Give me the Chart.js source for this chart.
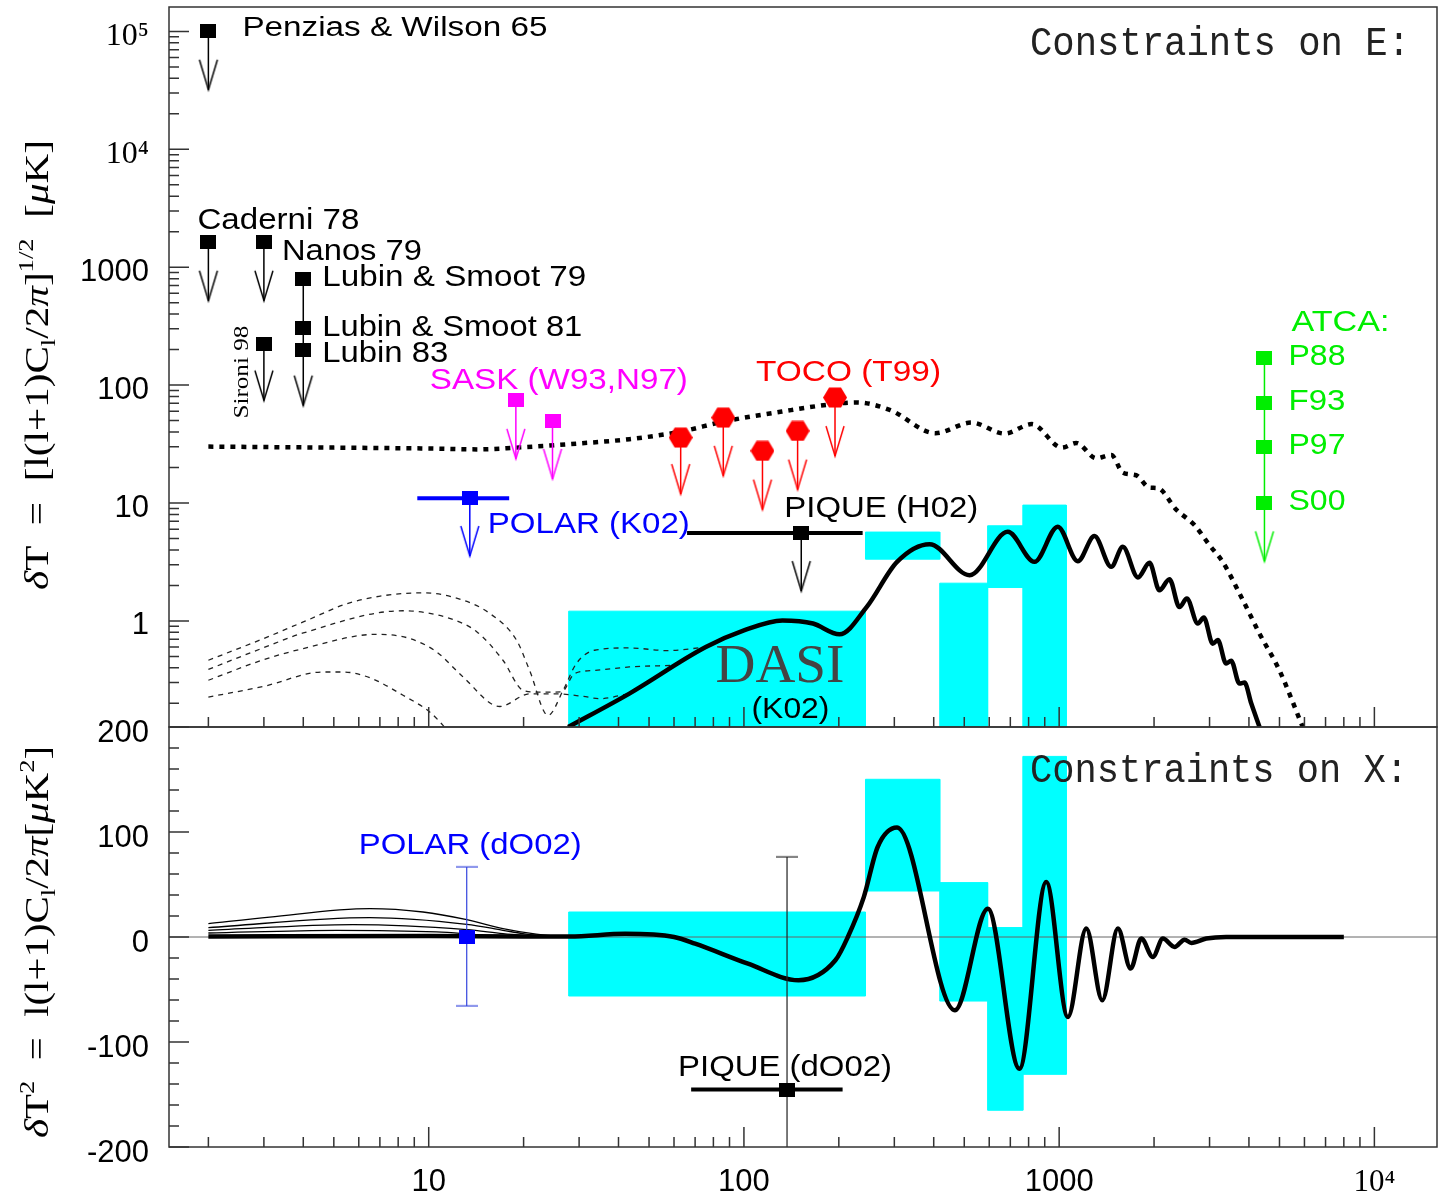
<!DOCTYPE html>
<html lang="en">
<head>
<meta charset="UTF-8">
<title>Constraints on E and X</title>
<script src="https://cdn.jsdelivr.net/npm/chart.js"></script>
<style>
  body { margin: 0; background: #fff; }
  #wrap { position: relative; width: 1441px; height: 1198px; overflow: hidden; background: #fff; }
  canvas { position: absolute; left: 0; }
  #topChart { top: 0; }
  #botChart { top: 700px; }
</style>
</head>
<body>
<div id="wrap">
  <canvas id="topChart" width="1441" height="740"></canvas>
  <canvas id="botChart" width="1441" height="498"></canvas>
</div>
<script>
// ---------- axes ----------
const lMin = 1.5, lMax = 15800;          // multipole l
const eMin = 0.126, eMax = 161000;       // top panel, dT in uK
const xMin = -200, xMax = 200;           // bottom panel, dT^2 in uK^2
const lTicks = [10, 100, 1000, 10000];
const lTickLabels = ['10', '100', '1000', '10⁴'];
const eTicks = [1, 10, 100, 1000, 10000, 100000];
const eTickLabels = ['1', '10', '100', '1000', '10⁴', '10⁵'];
const xTicks = [-200, -100, 0, 100, 200];
const xTickLabels = ['-200', '-100', '0', '100', '200'];

// ---------- E upper limits: [l, value, arrow tip] ----------
const penzias = [2, 100000, 32000];
const caderni = [2, 1620, 520];
const nanos = [3, 1620, 520];
const sironi = [3, 225, 74];
const lubinL = 4;
const lubinVals = [800, 308, 200];       // Lubin & Smoot 79, 81, Lubin 83
const lubinTip = 67;
const saskL = [18.9, 24.7];
const saskV = [75, 50];
const saskTip = [23.7, 16];
const tocoL = [63, 86, 114.5, 148, 194.5];
const tocoV = [35.9, 53, 27.7, 40.9, 78.5];
const tocoTip = [11.9, 17, 8.8, 13, 25];
const polarEL = [9.2, 13.5, 18];         // low, centre, high
const polarEV = 11;
const polarETip = 3.55;
const piqueEL = [66, 152, 238];
const piqueEV = 5.56;
const piqueETip = 1.79;
const atcaL = 4480;
const atcaV = [171, 70.8, 29.9, 10];     // P88, F93, P97, S00
const atcaTip = 3.2;

// ---------- DASI bands ----------
const dasiLo = [27.8, 243, 418, 593, 767];
const dasiHi = [243, 418, 593, 767, 1053];
const dasiETop = [1.21, 5.67, 2.09, 6.41, 9.6];
const dasiEBot = [0.05, 3.34, 0.05, 1.92, 0.05];   // 0.05 = open below the axis
const dasiXTop = [23.8, 150.2, 51.8, 9, 172];
const dasiXBot = [-56.2, 43.8, -61, -165, -130.8];

// ---------- model curves, top panel ----------
const totalE = [[2, 30.1], [5, 29.5], [10, 29], [14.5, 28.5], [19, 29.5], [30, 32], [43.3, 34.8], [63, 40.3],
  [86, 49], [132, 59.7], [195, 69.4], [228, 71.3], [290, 61.7], [405, 39.1], [527, 48.1], [671, 38.8],
  [819, 46.7], [1020, 29.5], [1133, 32.3], [1311, 24], [1463, 25.6], [1592, 18.1], [1755, 17.2],
  [1935, 13.5], [2053, 13.4], [2352, 8.8], [2687, 6.5], [2997, 4.4], [3302, 3.17], [3826, 1.5],
  [4322, 0.78], [5000, 0.38], [5925, 0.126]];
const modelE = [[27.7, 0.126], [43.3, 0.242], [75.7, 0.6], [100, 0.83], [132.5, 1.01], [165.6, 0.95],
  [201, 0.77], [245, 1.31], [306, 3.17], [388, 4.48], [520, 2.44], [687, 5.7], [835, 3.17], [990, 6.29],
  [1146, 3.21], [1294, 5.24], [1463, 2.88], [1592, 4.25], [1778, 2.34], [1935, 3.11], [2080, 1.82],
  [2238, 2.26], [2408, 1.31], [2541, 1.55], [2754, 0.95], [2877, 1.07], [3071, 0.64], [3186, 0.69],
  [3386, 0.435], [3512, 0.46], [3733, 0.294], [3872, 0.3], [4067, 0.2], [4322, 0.126]];
const reionE1 = [[2, 0.464], [3, 0.71], [4, 0.98], [5.75, 1.45], [9.59, 1.73], [12.85, 1.5], [15.6, 1.16],
  [19, 0.686], [20.9, 0.38], [23.9, 0.158], [26.7, 0.258], [29.4, 0.435], [33.6, 0.564], [43.3, 0.59],
  [57.3, 0.56], [75.7, 0.6]];
const reionE2 = [[2, 0.388], [3, 0.594], [4, 0.79], [8.29, 1.22], [11.65, 1.05], [14.2, 0.81], [17.2, 0.464],
  [19.9, 0.258], [21.95, 0.249], [26.4, 0.25], [29, 0.357], [33.6, 0.38], [43.3, 0.407], [60, 0.42]];
const reionE3 = [[2, 0.314], [3, 0.47], [4, 0.583], [6.83, 0.77], [8.7, 0.71], [10.6, 0.545], [12.85, 0.335],
  [16.8, 0.188], [20.9, 0.241], [25.4, 0.241], [30.9, 0.229], [34.9, 0.219], [43.3, 0.242]];
const reionE4 = [[2, 0.226], [3, 0.279], [4.62, 0.369], [5.35, 0.369], [6.5, 0.33], [8.29, 0.234],
  [10.07, 0.169], [11.1, 0.13], [12, 0.1]];

// ---------- model curves, bottom panel ----------
const modelX = [[2, 0.5], [10, 1], [20, 0.5], [28, 0.5], [42, 3], [60, 0], [70, -6.3], [103, -25.4],
  [149, -41.2], [195, -22.2], [213.6, 0], [240, 38], [265.6, 85.7], [306, 104.2], [467, -69.8], [594, 27],
  [748, -125.4], [910, 52.4], [1066, -76.2], [1219, 8], [1370, -60.3], [1536, 8], [1686, -30.1],
  [1822, -1.5], [1983, -19], [2133, -1.5], [2324, -9.5], [2500, -2.5], [2626, -5.7], [2930, -1.5],
  [3386, 0], [8000, 0]];
const reionX1 = [[2, 12.7], [3.13, 19], [6.5, 27], [9.59, 23.8], [13.2, 16.5], [17.2, 8], [21.4, 3.2], [26, 0.5]];
const reionX2 = [[2, 9], [6.5, 18.5], [13.2, 12.1], [17.2, 6.4], [19.9, 3.2], [24, 0.5]];
const reionX3 = [[2, 6.4], [5.75, 11.8], [13.2, 7], [17.2, 3.2], [22, 0.5]];
const reionX4 = [[2, 3.8], [5.1, 6.4], [10.6, 4.8], [15.2, 1.6], [20, 0.5]];

// ---------- X data points ----------
const polarXL = 13.2;
const polarXV = 0;
const polarXErr = [66.7, -65.7];
const piqueXL = [68, 137, 205.6];
const piqueXV = -145.3;
const piqueXErr = [76.2, -250];

// ---------- styles ----------
const SANS = '"Liberation Sans", Arial, sans-serif';
const SERIF = '"Liberation Serif", "Times New Roman", serif';
const MONO = '"Liberation Mono", "Courier New", monospace';
const green = '#00EE00', magenta = '#FF00FF', red = '#FF0000', blue = '#0000FF', cyan = '#00FFFF';

// keep point sizes from padding the chart area
Chart.defaults.elements.point.hoverRadius = 0;
Chart.defaults.elements.point.borderWidth = 0;

function mkCanvas(w, h, draw) {
  const c = document.createElement('canvas');
  c.width = w; c.height = h;
  draw(c.getContext('2d'), w, h);
  return c;
}
const arrowImg = color => mkCanvas(22, 66, g => {
  g.strokeStyle = color; g.lineWidth = 1.5;
  g.beginPath(); g.moveTo(2, 3); g.lineTo(11, 33); g.lineTo(20, 3); g.stroke();
});
const capImg = color => mkCanvas(22, 3, g => {
  g.strokeStyle = color; g.lineWidth = 1.2;
  g.beginPath(); g.moveTo(0, 1.5); g.lineTo(22, 1.5); g.stroke();
});
const squareImg = color => mkCanvas(16, 14, (g, w, h) => { g.fillStyle = color; g.fillRect(0, 0, w, h); });
const hexImg = color => mkCanvas(24, 21, g => {
  g.fillStyle = color; g.beginPath();
  g.moveTo(0, 10.5); g.lineTo(6, 0.5); g.lineTo(18, 0.5); g.lineTo(24, 10.5); g.lineTo(18, 20.5); g.lineTo(6, 20.5);
  g.closePath(); g.fill();
});

const pts = arr => arr.map(p => ({ x: p[0], y: p[1] }));

function curve(arr, opts) {
  return Object.assign({ data: pts(arr), borderColor: '#000', pointRadius: 0, fill: false,
    cubicInterpolationMode: 'monotone' }, opts);
}
function band(lo, hi, top, bot) {
  return { data: pts([[lo, bot], [lo, top], [hi, top], [hi, bot], [lo, bot]]), fill: 'shape',
    backgroundColor: cyan, borderColor: cyan, borderWidth: 1, pointRadius: 0, tension: 0, order: 10 };
}
function hbar(lo, hi, v, color) {
  return { data: pts([[lo, v], [hi, v]]), borderColor: color, borderWidth: 4, pointRadius: 0, order: 4 };
}
function limit(l, vals, tip, color, marker) {
  const d = vals.map(v => ({ x: l, y: v }));
  d.push({ x: l, y: tip });
  const arrow = arrowImg(color);
  return { data: d, borderColor: color, borderWidth: 1.5, pointRadius: 1, order: 3,
    pointStyle: d.map((p, i) => i < vals.length ? marker : arrow) };
}

function logMarks(min, max) {
  const marks = [];
  for (let e = Math.floor(Math.log10(min)); e <= Math.ceil(Math.log10(max)); e++) {
    for (let k = 1; k <= 9; k++) {
      const v = k * Math.pow(10, e);
      if (v >= min && v <= max) marks.push({ v: v, len: k === 1 ? 20 : 10 });
    }
  }
  return marks;
}
const lMarks = logMarks(lMin, lMax);
const eMarks = logMarks(eMin, eMax);
const xMarks = [];
for (let v = xMin; v <= xMax; v += 20) xMarks.push({ v: v, len: v % 100 === 0 ? 20 : 10 });

// text helpers
function txt(ctx, s, x, y, font, color, width) {
  ctx.save();
  ctx.font = font; ctx.fillStyle = color; ctx.textBaseline = 'alphabetic'; ctx.textAlign = 'left';
  const k = width ? width / ctx.measureText(s).width : 1;
  ctx.translate(x, y); ctx.scale(k, 1); ctx.fillText(s, 0, 0);
  ctx.restore();
}
function vtxt(ctx, runs, x, y, len, centred) {
  let total = 0;
  runs.forEach(r => { ctx.font = r.f; r.w = ctx.measureText(r.t).width; total += r.w; });
  const k = len / total;
  ctx.save();
  ctx.translate(x, y); ctx.rotate(-Math.PI / 2); ctx.scale(k, 1);
  ctx.fillStyle = '#000'; ctx.textBaseline = 'alphabetic'; ctx.textAlign = 'left';
  let cx = centred ? -total / 2 : 0;
  runs.forEach(r => { ctx.font = r.f; ctx.fillText(r.t, cx, r.dy || 0); cx += r.w; });
  ctx.restore();
}
const sans = n => n + 'px ' + SANS;
const big = '34px ' + SERIF, bigI = 'italic 34px ' + SERIF, small = '22px ' + SERIF;

function framePlugin(yMarks, extra) {
  return {
    id: 'frame',
    afterDraw(chart) {
      const ctx = chart.ctx, a = chart.chartArea, sx = chart.scales.x, sy = chart.scales.y;
      ctx.save();
      ctx.strokeStyle = '#333'; ctx.lineWidth = 1.5;
      ctx.strokeRect(a.left, a.top, a.right - a.left, a.bottom - a.top);
      ctx.beginPath();
      lMarks.forEach(m => { const px = sx.getPixelForValue(m.v); ctx.moveTo(px, a.bottom); ctx.lineTo(px, a.bottom - m.len); });
      yMarks.forEach(m => { const py = sy.getPixelForValue(m.v); ctx.moveTo(a.left, py); ctx.lineTo(a.left + m.len, py); });
      ctx.stroke();
      ctx.restore();
      extra(ctx, chart);
    }
  };
}

function yAxis(type, min, max, vals, labels, fontFn, offset) {
  return {
    type: type, min: min, max: max,
    afterBuildTicks: s => { s.ticks = vals.map(v => ({ value: v })); },
    afterFit: s => { s.width = 169; s.paddingTop = 0; s.paddingBottom = 0; },
    ticks: { callback: (v, i) => labels[i], font: fontFn, color: '#000', padding: 20, labelOffset: offset, autoSkip: false },
    grid: { display: false, drawTicks: false },
    border: { display: false }
  };
}

// ================= top panel: constraints on E =================
const blackSq = squareImg('#000');
const topSets = [];
dasiLo.forEach((lo, i) => topSets.push(band(lo, dasiHi[i], dasiETop[i], dasiEBot[i])));
[reionE1, reionE2, reionE3, reionE4].forEach(c =>
  topSets.push(curve(c, { borderColor: '#222', borderWidth: 1.3, borderDash: [5, 5], order: 8 })));
topSets.push(curve(totalE, { borderWidth: 4.5, borderDash: [5, 6], order: 7 }));
topSets.push(curve(modelE, { borderWidth: 4.5, order: 6 }));
topSets.push(hbar(polarEL[0], polarEL[2], polarEV, blue));
topSets.push(hbar(piqueEL[0], piqueEL[2], piqueEV, '#000'));
topSets.push(limit(penzias[0], [penzias[1]], penzias[2], '#000', blackSq));
topSets.push(limit(caderni[0], [caderni[1]], caderni[2], '#000', blackSq));
topSets.push(limit(nanos[0], [nanos[1]], nanos[2], '#000', blackSq));
topSets.push(limit(sironi[0], [sironi[1]], sironi[2], '#000', blackSq));
topSets.push(limit(lubinL, lubinVals, lubinTip, '#000', blackSq));
saskL.forEach((l, i) => topSets.push(limit(l, [saskV[i]], saskTip[i], magenta, squareImg(magenta))));
tocoL.forEach((l, i) => topSets.push(limit(l, [tocoV[i]], tocoTip[i], red, hexImg(red))));
topSets.push(limit(polarEL[1], [polarEV], polarETip, blue, squareImg(blue)));
topSets.push(limit(piqueEL[1], [piqueEV], piqueETip, '#000', blackSq));
topSets.push(limit(atcaL, atcaV, atcaTip, green, squareImg(green)));

function drawTopText(ctx, chart) {
  const a = chart.chartArea;
  const P = (l, v) => [chart.scales.x.getPixelForValue(l), chart.scales.y.getPixelForValue(v)];
  const put = (s, p, dx, dy, w, size, color) => txt(ctx, s, p[0] + dx, p[1] + dy, sans(size), color, w);
  put('Penzias & Wilson 65', P(penzias[0], penzias[1]), 34, 5, 305, 27, '#000');
  put('Caderni 78', P(caderni[0], caderni[1]), -11, -13, 162, 30, '#000');
  put('Nanos 79', P(nanos[0], nanos[1]), 18, 18, 140, 29, '#000');
  put('Lubin & Smoot 79', P(lubinL, lubinVals[0]), 19, 7, 264, 29, '#000');
  put('Lubin & Smoot 81', P(lubinL, lubinVals[1]), 19, 8, 260, 29, '#000');
  put('Lubin 83', P(lubinL, lubinVals[2]), 19, 12.7, 126, 29, '#000');
  put('SASK (W93,N97)', P(saskL[0], saskV[0]), -86, -11, 258, 29, magenta);
  put('TOCO (T99)', P(tocoL[4], tocoV[4]), -79, -17, 185, 29, red);
  put('POLAR (K02)', P(polarEL[1], polarEV), 18, 35, 202, 29, blue);
  put('PIQUE (H02)', P(piqueEL[1], piqueEV), -17, -16, 194, 29, '#000');
  put('ATCA:', P(atcaL, atcaV[0]), 27, -27, 98, 29, green);
  ['P88', 'F93', 'P97', 'S00'].forEach((s, i) => put(s, P(atcaL, atcaV[i]), 24, 7, 57, 29, green));
  const d = P(dasiHi[0], dasiETop[0]);
  txt(ctx, 'DASI', d[0] - 150, d[1] + 71, '55px ' + SERIF, '#444', 129);
  put('(K02)', d, -114, 107, 78, 29, '#000');
  txt(ctx, 'Constraints on E:', a.right - 407, a.top + 48, '41px ' + MONO, '#222', 380);
  const s = P(sironi[0], sironi[1]);
  vtxt(ctx, [{ t: 'Sironi 98', f: '20px ' + SERIF }], s[0] - 16, s[1] + 75, 93, false);
  vtxt(ctx, [
    { t: 'δ', f: bigI }, { t: 'T  =  [l(l+1)C', f: big }, { t: 'l', f: small, dy: 7 },
    { t: '/2', f: big }, { t: 'π', f: bigI }, { t: ']', f: big }, { t: '1/2', f: small, dy: -15 },
    { t: '  [', f: big }, { t: 'μ', f: bigI }, { t: 'K]', f: big }
  ], 48, 365, 450, true);
}

new Chart(document.getElementById('topChart'), {
  type: 'line',
  data: { datasets: topSets },
  options: {
    responsive: false, animation: false, devicePixelRatio: 1,
    layout: { padding: { left: 0, right: 4, top: 7, bottom: 13 } },
    plugins: { legend: { display: false }, tooltip: { enabled: false } },
    scales: {
      x: { type: 'logarithmic', min: lMin, max: lMax, display: false },
      y: yAxis('logarithmic', eMin, eMax, eTicks, eTickLabels,
        c => (c.tick && c.tick.value >= 10000) ? { family: SERIF, size: 32 } : { family: SANS, size: 31 }, 5)
    }
  },
  plugins: [framePlugin(eMarks, drawTopText)]
});

// ================= bottom panel: constraints on X =================
const botSets = [];
dasiLo.forEach((lo, i) => botSets.push(band(lo, dasiHi[i], dasiXTop[i], dasiXBot[i])));
botSets.push({ data: pts([[lMin, 0], [lMax, 0]]), borderColor: '#666', borderWidth: 1, pointRadius: 0, order: 9 });
[reionX1, reionX2, reionX3, reionX4].forEach(c =>
  botSets.push(curve(c, { borderWidth: 1.3, order: 8 })));
botSets.push(curve(modelX, { borderWidth: 4.5, order: 6 }));
botSets.push({ data: pts([[polarXL, polarXErr[0]], [polarXL, polarXErr[1]]]), borderColor: '#3344DD', borderWidth: 1.2,
  pointStyle: capImg('#3344DD'), pointRadius: 1, order: 4 });
botSets.push({ data: pts([[polarXL, polarXV]]), pointStyle: squareImg(blue), pointRadius: 1, order: 2 });
botSets.push(hbar(piqueXL[0], piqueXL[2], piqueXV, '#000'));
botSets.push({ data: pts([[piqueXL[1], piqueXErr[0]], [piqueXL[1], piqueXErr[1]]]), borderColor: '#222', borderWidth: 1.2,
  pointStyle: capImg('#222'), pointRadius: [1, 0], order: 4 });
botSets.push({ data: pts([[piqueXL[1], piqueXV]]), pointStyle: blackSq, pointRadius: 1, order: 2 });

function drawBotText(ctx, chart) {
  const a = chart.chartArea;
  const P = (l, v) => [chart.scales.x.getPixelForValue(l), chart.scales.y.getPixelForValue(v)];
  const put = (s, p, dx, dy, w, size, color) => txt(ctx, s, p[0] + dx, p[1] + dy, sans(size), color, w);
  put('POLAR (dO02)', P(polarXL, polarXV), -108, -83, 223, 29, blue);
  put('PIQUE (dO02)', P(piqueXL[1], piqueXV), -109, -14, 214, 29, '#000');
  txt(ctx, 'Constraints on X:', a.right - 407, a.top + 55, '41px ' + MONO, '#222', 378);
  vtxt(ctx, [
    { t: 'δ', f: bigI }, { t: 'T', f: big }, { t: '2', f: small, dy: -14 }, { t: '  =  l(l+1)C', f: big },
    { t: 'l', f: small, dy: 7 }, { t: '/2', f: big }, { t: 'π', f: bigI }, { t: '[', f: big },
    { t: 'μ', f: bigI }, { t: 'K', f: big }, { t: '2', f: small, dy: -14 }, { t: ']', f: big }
  ], 48, (a.top + a.bottom) / 2 + 5, 392, true);
}

new Chart(document.getElementById('botChart'), {
  type: 'line',
  data: { datasets: botSets },
  options: {
    responsive: false, animation: false, devicePixelRatio: 1,
    layout: { padding: { left: 0, right: 4, top: 27, bottom: 0 } },
    plugins: { legend: { display: false }, tooltip: { enabled: false } },
    scales: {
      x: {
        type: 'logarithmic', min: lMin, max: lMax, position: 'bottom',
        afterBuildTicks: s => { s.ticks = lTicks.map(v => ({ value: v })); },
        afterFit: s => { s.height = 51; s.paddingLeft = 0; s.paddingRight = 0; },
        ticks: {
          callback: (v, i) => lTickLabels[i], color: '#000', padding: 17, autoSkip: false, maxRotation: 0, minRotation: 0,
          font: c => (c.tick && c.tick.value >= 10000) ? { family: SERIF, size: 31 } : { family: SANS, size: 31 }
        },
        grid: { display: false, drawTicks: false },
        border: { display: false }
      },
      y: yAxis('linear', xMin, xMax, xTicks, xTickLabels, { family: SANS, size: 31 }, 6)
    }
  },
  plugins: [framePlugin(xMarks, drawBotText)]
});
</script>
</body>
</html>
